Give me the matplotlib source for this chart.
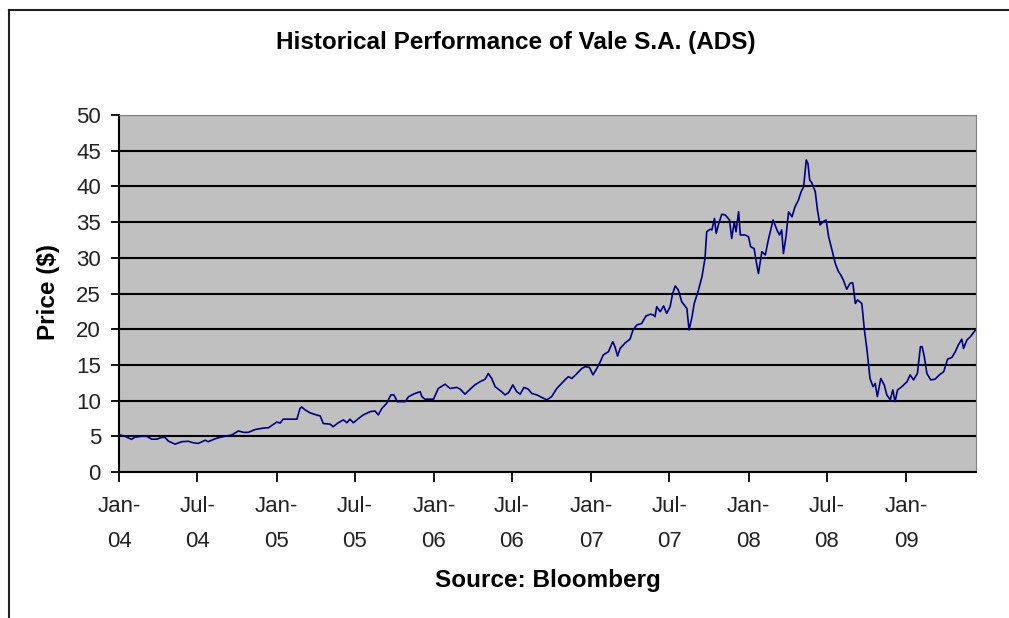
import pandas as pd
import matplotlib
matplotlib.use("Agg")
import matplotlib.pyplot as plt
from matplotlib.lines import Line2D

plt.rcParams['font.family'] = ['Liberation Sans', 'DejaVu Sans']

# Vale ADS price (approx.)
dates_2004 = ['2004-01-03', '2004-01-15', '2004-01-30', '2004-02-07', '2004-02-23',
              '2004-03-05', '2004-03-17', '2004-03-29', '2004-04-09', '2004-04-17',
              '2004-04-24', '2004-05-10', '2004-05-26', '2004-06-10', '2004-06-21',
              '2004-07-03', '2004-07-19', '2004-07-26', '2004-08-11', '2004-08-22',
              '2004-09-03', '2004-09-19', '2004-10-04', '2004-10-16', '2004-10-27',
              '2004-11-12', '2004-12-01', '2004-12-13', '2004-12-24']
price_2004 = [5.2, 5.0, 4.57, 4.87, 5.0,
              5.0, 4.6, 4.6, 4.85, 4.85,
              4.35, 3.9, 4.25, 4.3, 4.1,
              4.0, 4.45, 4.25, 4.65, 4.85,
              5.0, 5.2, 5.75, 5.55, 5.55,
              5.95, 6.15, 6.2, 6.65]

dates_2005 = ['2005-01-01', '2005-01-09', '2005-01-16', '2005-02-17', '2005-02-24',
              '2005-02-28', '2005-03-08', '2005-03-19', '2005-03-31', '2005-04-12',
              '2005-04-19', '2005-05-05', '2005-05-12', '2005-05-24', '2005-06-05',
              '2005-06-13', '2005-06-20', '2005-06-28', '2005-07-10', '2005-07-21',
              '2005-08-06', '2005-08-17', '2005-08-25', '2005-09-02', '2005-09-13',
              '2005-09-23', '2005-09-30', '2005-10-08', '2005-10-26', '2005-11-03',
              '2005-11-18', '2005-11-30', '2005-12-04', '2005-12-11', '2005-12-31']
price_2005 = [7.0, 6.85, 7.4, 7.4, 8.9,
              9.1, 8.7, 8.3, 8.05, 7.85,
              6.8, 6.7, 6.35, 6.9, 7.3,
              6.9, 7.4, 6.9, 7.5, 8.0,
              8.45, 8.55, 8.0, 8.9, 9.6,
              10.8, 10.8, 9.85, 9.85, 10.55,
              11.0, 11.25, 10.55, 10.2, 10.2]

dates_2006 = ['2006-01-11', '2006-01-27', '2006-02-07', '2006-02-23', '2006-03-03',
              '2006-03-14', '2006-03-26', '2006-04-06', '2006-04-18', '2006-04-30',
              '2006-05-07', '2006-05-15', '2006-05-23', '2006-06-07', '2006-06-15',
              '2006-06-23', '2006-07-03', '2006-07-12', '2006-07-20', '2006-07-29',
              '2006-08-08', '2006-08-16', '2006-08-28', '2006-09-08', '2006-09-20',
              '2006-10-01', '2006-10-13', '2006-10-21', '2006-11-01', '2006-11-09',
              '2006-11-17', '2006-11-29', '2006-12-10', '2006-12-18', '2006-12-28']
price_2006 = [11.7, 12.3, 11.7, 11.85, 11.6,
              10.9, 11.6, 12.2, 12.65, 13.0,
              13.8, 13.1, 11.95, 11.25, 10.8,
              11.1, 12.2, 11.25, 10.9, 11.85,
              11.6, 11.0, 10.8, 10.45, 10.1,
              10.55, 11.7, 12.2, 12.9, 13.35,
              13.1, 13.8, 14.5, 14.75, 14.65]

dates_2007 = ['2007-01-05', '2007-01-14', '2007-01-22', '2007-01-29', '2007-02-10',
              '2007-02-20', '2007-02-25', '2007-03-03', '2007-03-09', '2007-03-21',
              '2007-04-01', '2007-04-08', '2007-04-17', '2007-04-28', '2007-05-08',
              '2007-05-18', '2007-05-25', '2007-05-29', '2007-06-02', '2007-06-10',
              '2007-06-18', '2007-06-25', '2007-07-03', '2007-07-09', '2007-07-15',
              '2007-07-22', '2007-07-30', '2007-08-11', '2007-08-16', '2007-08-23',
              '2007-08-28', '2007-09-07', '2007-09-15', '2007-09-22', '2007-09-26',
              '2007-10-04', '2007-10-08', '2007-10-14', '2007-10-18', '2007-10-23',
              '2007-10-31', '2007-11-08', '2007-11-18', '2007-11-23', '2007-11-29',
              '2007-12-03', '2007-12-09', '2007-12-13', '2007-12-24']
price_2007 = [13.6, 14.5, 15.45, 16.4, 16.85,
              18.25, 17.55, 16.25, 17.3, 18.1,
              18.6, 19.9, 20.6, 20.8, 21.85,
              22.1, 22.0, 21.75, 23.15, 22.45,
              23.25, 22.2, 23.15, 25.0, 26.05,
              25.5, 23.85, 22.9, 19.9, 21.75,
              23.6, 25.5, 27.35, 29.9, 33.65,
              34.0, 33.9, 35.5, 33.4, 34.6,
              36.1, 36.0, 35.3, 32.7, 35.05,
              33.65, 36.45, 33.2, 33.2]

dates_2008 = ['2008-01-01', '2008-01-06', '2008-01-14', '2008-01-19', '2008-01-24',
              '2008-02-01', '2008-02-09', '2008-02-16', '2008-02-27', '2008-03-07',
              '2008-03-13', '2008-03-18', '2008-03-22', '2008-03-28', '2008-04-03',
              '2008-04-11', '2008-04-18', '2008-04-26', '2008-05-02', '2008-05-08',
              '2008-05-14', '2008-05-18', '2008-05-22', '2008-05-27', '2008-06-04',
              '2008-06-09', '2008-06-15', '2008-06-22', '2008-06-29', '2008-07-05',
              '2008-07-13', '2008-07-21', '2008-07-28', '2008-08-02', '2008-08-08',
              '2008-08-16', '2008-08-24', '2008-08-30', '2008-09-05', '2008-09-10',
              '2008-09-20', '2008-09-26', '2008-10-02', '2008-10-06', '2008-10-09',
              '2008-10-16', '2008-10-21', '2008-10-26', '2008-11-03', '2008-11-11',
              '2008-11-17', '2008-11-25', '2008-12-01', '2008-12-06', '2008-12-12',
              '2008-12-22']
price_2008 = [32.95, 31.55, 31.3, 29.45, 27.8,
              30.85, 30.4, 32.5, 35.3, 33.9,
              33.2, 33.9, 30.6, 32.95, 36.45,
              35.75, 37.15, 38.1, 39.25, 39.95,
              43.7, 43.2, 40.9, 40.5, 39.25,
              36.7, 34.6, 35.05, 35.3, 32.95,
              31.0, 29.1, 28.05, 27.6, 26.9,
              25.6, 26.45, 26.5, 23.6, 24.1,
              23.6, 19.9, 17.1, 14.75, 13.1,
              11.95, 12.4, 10.55, 13.1, 12.2,
              10.8, 10.1, 11.5, 9.85, 11.5,
              11.95]

dates_2009 = ['2009-01-03', '2009-01-10', '2009-01-18', '2009-01-27', '2009-02-03',
              '2009-02-07', '2009-02-12', '2009-02-18', '2009-02-27', '2009-03-09',
              '2009-03-19', '2009-03-29', '2009-04-07', '2009-04-17', '2009-04-25',
              '2009-05-02', '2009-05-10', '2009-05-14', '2009-05-22', '2009-05-30',
              '2009-06-06', '2009-06-11']
price_2009 = [12.65, 13.6, 12.9, 13.8, 17.55,
              17.55, 16.15, 13.8, 12.9, 13.0,
              13.6, 14.05, 15.8, 16.05, 16.85,
              17.8, 18.6, 17.3, 18.5, 18.95,
              19.5, 19.9]

dates = pd.to_datetime(dates_2004 + dates_2005 + dates_2006 + dates_2007 + dates_2008 + dates_2009)
prices = price_2004 + price_2005 + price_2006 + price_2007 + price_2008 + price_2009

tick_dates = pd.date_range('2004-01-01', '2009-01-01', freq='6MS')
tick_labels = [d.strftime('%b-\n%y') for d in tick_dates]
y_ticks = list(range(0, 51, 5))

fig = plt.figure(figsize=(10.09, 6.18), dpi=100)
ax = fig.add_axes([119/1009, 1 - 472/618, (976 - 119)/1009, (472 - 115)/618])

ax.set_facecolor('#C0C0C0')
ax.plot(dates, prices, color='#000080', lw=1.2)

ax.set_ylim(0, 50)
ax.set_xlim(pd.Timestamp('2004-01-01'), pd.Timestamp('2009-06-12'))
ax.set_yticks(y_ticks)
ax.set_xticks(tick_dates)
ax.set_xticklabels(tick_labels, linespacing=1.9)
ax.yaxis.grid(True, color='black', lw=1.5)
ax.set_axisbelow(True)

ax.tick_params(axis='both', direction='out', color='black', width=1.3,
               labelsize=16, labelcolor='#222222')
ax.tick_params(axis='x', length=7, pad=10)
ax.tick_params(axis='y', length=6, pad=7)

ax.spines['left'].set_color('black')
ax.spines['bottom'].set_color('black')
ax.spines['left'].set_linewidth(1.5)
ax.spines['bottom'].set_linewidth(1.5)
ax.spines['top'].set_color('#808080')
ax.spines['right'].set_color('#808080')

fig.text(48/1009, 1 - 292/618, 'Price ($)', rotation=90,
         ha='center', va='center', fontsize=17.5, fontweight='bold')
fig.text(516/1009, 1 - 42/618, 'Historical Performance of Vale S.A. (ADS)',
         ha='center', va='center', fontsize=17.5, fontweight='bold')
fig.text(548/1009, 1 - 580/618, 'Source: Bloomberg',
         ha='center', va='center', fontsize=17.5, fontweight='bold')

# chart border (only top and left edges visible)
y0 = 1 - 10/618
x0 = 9/1009
fig.add_artist(Line2D([x0, 1], [y0, y0], color='#202020', lw=1.5, transform=fig.transFigure))
fig.add_artist(Line2D([x0, x0], [y0, 0], color='#202020', lw=1.5, transform=fig.transFigure))

fig.savefig('out.png', dpi=100)
